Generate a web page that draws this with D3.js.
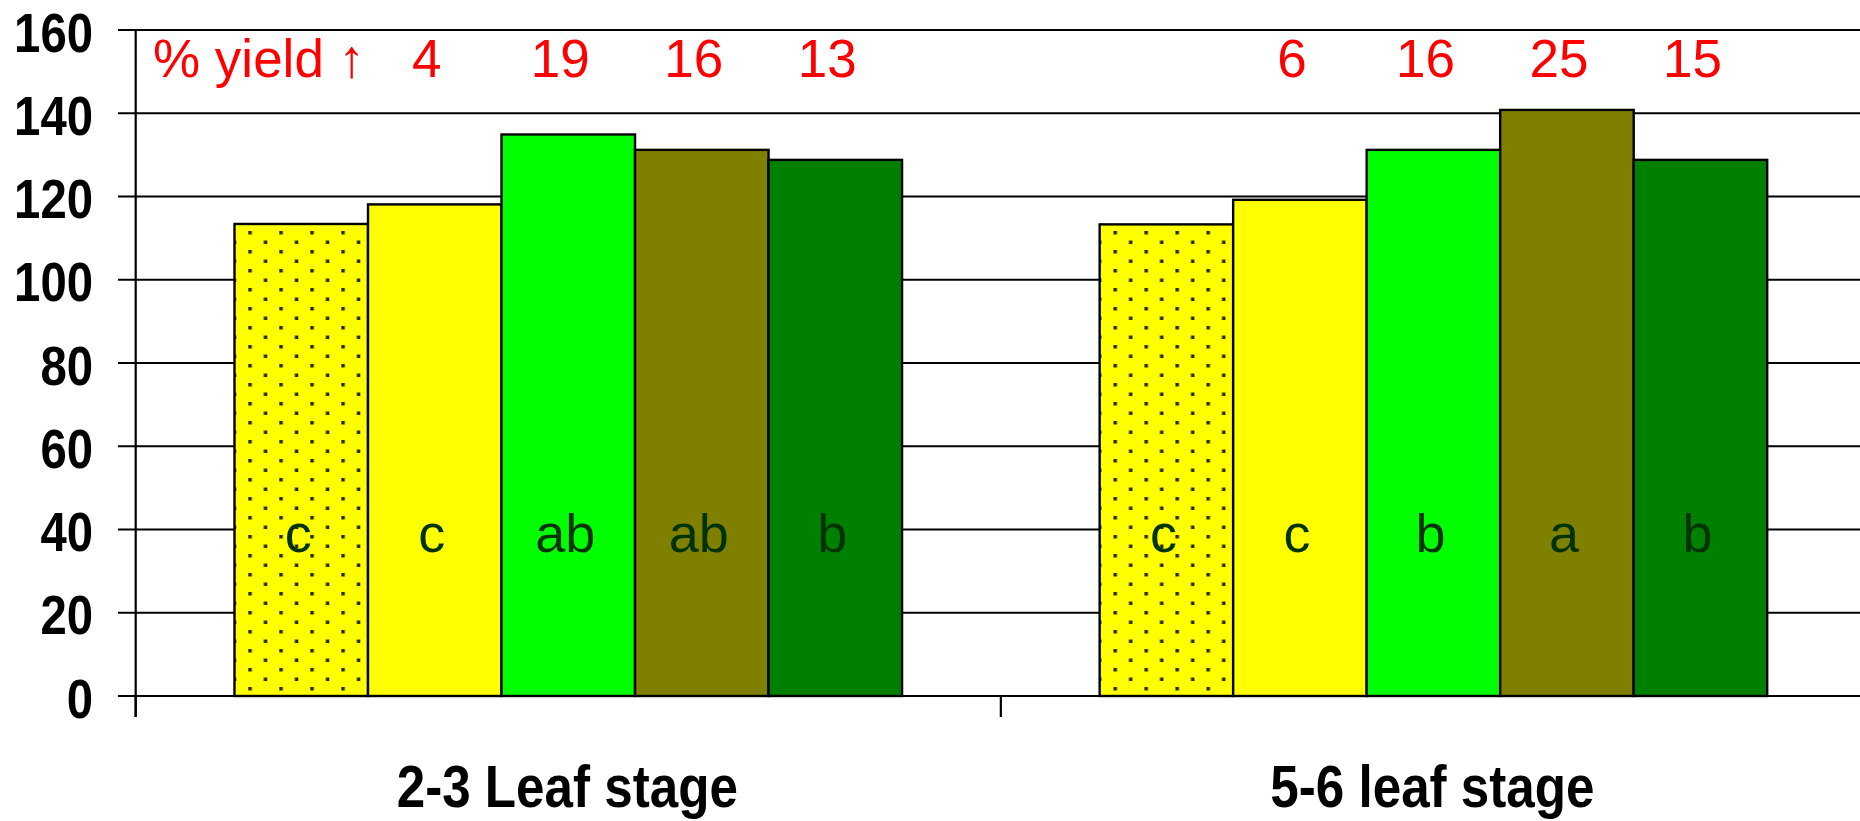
<!DOCTYPE html>
<html>
<head>
<meta charset="utf-8">
<script src="https://cdn.jsdelivr.net/npm/d3@7"></script>
<style>
  html, body { margin: 0; padding: 0; background: #fff; }
  svg { display: block; }
</style>
</head>
<body>
<svg id="chart" width="1860" height="821"></svg>
<script>
// ---------- data ----------
const stages = ["2-3 Leaf stage", "5-6 leaf stage"];
const treatments = ["T1", "T2", "T3", "T4", "T5"];
const values23 = [113.4, 118.1, 134.9, 131.2, 128.8];
const values56 = [113.3, 119.2, 131.2, 140.8, 128.8];
const letters23 = ["c", "c", "ab", "ab", "b"];
const letters56 = ["c", "c", "b", "a", "b"];
const yieldUp23 = ["", "4", "19", "16", "13"];
const yieldUp56 = ["", "6", "16", "25", "15"];
const yTicks = [0, 20, 40, 60, 80, 100, 120, 140, 160];
const barFills = ["url(#dots)", "#FFFF00", "#00FF00", "#808000", "#008000"];
const yieldTitle = "% yield \u2191";

const series = [
  { stage: stages[0], values: values23, letters: letters23, up: yieldUp23 },
  { stage: stages[1], values: values56, letters: letters56, up: yieldUp56 }
];

// ---------- fonts ----------
function hasFont(name) {
  const c = document.createElement("canvas").getContext("2d");
  const s = "160 Leaf stage";
  c.font = "bold 50px monospace";
  const a = c.measureText(s).width;
  c.font = `bold 50px "${name}", monospace`;
  const b = c.measureText(s).width;
  return Math.abs(a - b) > 0.5;
}
const narrowOK = hasFont("Liberation Sans Narrow");
const narrowFamily = narrowOK ? "'Liberation Sans Narrow', 'Arial Narrow', sans-serif" : "'Liberation Sans', Arial, sans-serif";
const narrowScale = narrowOK ? 1 : 0.82;
const regFamily = "'Liberation Sans', Arial, sans-serif";

// ---------- layout ----------
const svg = d3.select("#chart");
const plotLeft = 135.7, plotRight = 1866, plotTop = 30, plotBottom = 696;

const y = d3.scaleLinear().domain([0, 160]).range([plotBottom, plotTop]);
const x0 = d3.scaleBand().domain(stages).range([plotLeft, plotRight]).paddingInner(0).paddingOuter(0);
const x1 = d3.scaleBand().domain(treatments).range([0, x0.bandwidth()]).paddingInner(0).paddingOuter(0.74);

// pattern
const defs = svg.append("defs");
const pat = defs.append("pattern")
  .attr("id", "dots")
  .attr("patternUnits", "userSpaceOnUse")
  .attr("width", 31).attr("height", 19)
  .attr("x", 236.6).attr("y", 231);
pat.append("rect").attr("width", 31).attr("height", 19).attr("fill", "#FFFF00");
pat.append("rect").attr("x", 0).attr("y", 0).attr("width", 3.5).attr("height", 3.5).attr("fill", "#2a2a00");
pat.append("rect").attr("x", 15.5).attr("y", 9.5).attr("width", 3.5).attr("height", 3.5).attr("fill", "#2a2a00");

// gridlines (with left tick stub)
svg.append("g").selectAll("line").data(yTicks).join("line")
  .attr("x1", 118).attr("x2", 1860)
  .attr("y1", d => y(d)).attr("y2", d => y(d))
  .attr("stroke", "#000").attr("stroke-width", 2.2);

// y axis line
svg.append("line")
  .attr("x1", plotLeft).attr("x2", plotLeft)
  .attr("y1", plotTop).attr("y2", 717)
  .attr("stroke", "#000").attr("stroke-width", 2.2);

// category separator ticks
const seps = stages.map(s => x0(s)).concat([plotRight]);
svg.append("g").selectAll("line").data(seps).join("line")
  .attr("x1", d => d).attr("x2", d => d)
  .attr("y1", plotBottom).attr("y2", 717)
  .attr("stroke", "#000").attr("stroke-width", 2.2);

// y tick labels
svg.append("g").selectAll("text").data(yTicks).join("text")
  .attr("transform", d => `translate(93,${y(d) + 1.5}) scale(${narrowScale * 1.03},1)`)
  .attr("text-anchor", "end")
  .attr("dy", "0.36em")
  .attr("font-family", narrowFamily)
  .attr("font-weight", "bold")
  .attr("font-size", 56)
  .attr("fill", "#000")
  .text(d => d);

// bars
const groups = svg.append("g").selectAll("g").data(series).join("g")
  .attr("transform", d => `translate(${x0(d.stage)},0)`);

groups.selectAll("rect").data(d => d.values.map((v, i) => ({ v, i, t: treatments[i] }))).join("rect")
  .attr("x", d => x1(d.t))
  .attr("y", d => y(d.v))
  .attr("width", x1.bandwidth())
  .attr("height", d => y(0) - y(d.v))
  .attr("fill", d => barFills[d.i])
  .attr("stroke", "#000")
  .attr("stroke-width", 2.4);

// significance letters
groups.selectAll("text.let").data(d => d.letters.map((l, i) => ({ l, t: treatments[i] }))).join("text")
  .attr("class", "let")
  .attr("x", d => x1(d.t) + x1.bandwidth() / 2 - 3)
  .attr("y", 552)
  .attr("text-anchor", "middle")
  .attr("font-family", regFamily)
  .attr("font-size", 54)
  .attr("fill", "#003300")
  .text(d => d.l);

// % yield increase numbers
groups.selectAll("text.up").data(d => d.up.map((u, i) => ({ u, t: treatments[i] }))).join("text")
  .attr("class", "up")
  .attr("x", d => x1(d.t) + x1.bandwidth() / 2 - 8)
  .attr("y", 76.5)
  .attr("text-anchor", "middle")
  .attr("font-family", regFamily)
  .attr("font-size", 53)
  .attr("fill", "#FF0000")
  .text(d => d.u);

// title label
svg.append("text")
  .attr("x", 153).attr("y", 76.5)
  .attr("font-family", regFamily)
  .attr("font-size", 53)
  .attr("fill", "#FF0000")
  .text(yieldTitle);

// category labels
svg.append("g").selectAll("text").data(stages).join("text")
  .attr("transform", d => `translate(${x0(d) + x0.bandwidth() / 2 - 1},807) scale(${narrowScale * 1.04},1)`)
  .attr("text-anchor", "middle")
  .attr("font-family", narrowFamily)
  .attr("font-weight", "bold")
  .attr("font-size", 60)
  .attr("fill", "#000")
  .text(d => d);
</script>
</body>
</html>
